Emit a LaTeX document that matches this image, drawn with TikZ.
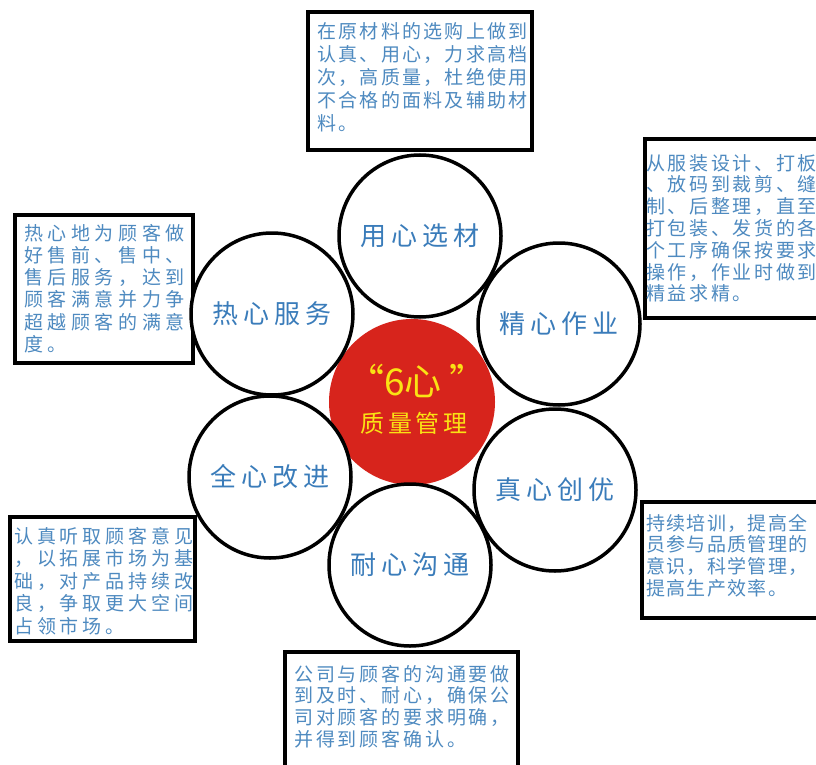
\documentclass[tikz,border=0pt]{standalone}
\usepackage{fontspec}
\setmainfont{Noto Sans CJK SC}
\newcommand\bfnt[1]{\fontsize{19}{19}\selectfont\addfontfeature{LetterSpace=#1}}
\definecolor{txtblue}{RGB}{78,138,192}
\definecolor{lblblue}{RGB}{58,124,186}
\definecolor{cred}{RGB}{215,36,28}
\definecolor{cyel}{RGB}{250,226,20}
\begin{document}
\begin{tikzpicture}[x=1pt,y=-1pt,
  boxnode/.style={draw=black, line width=4pt, fill=white, inner sep=0pt},
  circnode/.style={circle, draw=black, line width=3.5pt, fill=white, minimum size=162pt, inner sep=0pt, text=lblblue, font=\fontsize{26}{26}\selectfont\addfontfeature{LetterSpace=20}},
  btxt/.style={anchor=base west, inner sep=0pt, text=txtblue},
  ctxt/.style={anchor=base, inner sep=0pt, text=cyel}]
\clip (0,0) rectangle (816,765);
\fill[white] (0,0) rectangle (816,765);

% boxes
\node[boxnode, minimum width=224pt, minimum height=138pt] (btop) at (420,81) {};
\node[boxnode, minimum width=185pt, minimum height=179pt] (brt) at (737.5,228.5) {};
\node[boxnode, minimum width=178pt, minimum height=148pt] (blt) at (104,289) {};
\node[boxnode, minimum width=188pt, minimum height=116pt] (brb) at (736,560) {};
\node[boxnode, minimum width=185pt, minimum height=124pt] (blb) at (102.5,579) {};
\node[boxnode, minimum width=233pt, minimum height=128pt] (bbot) at (401.5,716) {};

% box texts
\foreach \t [count=\i] in {在原材料的选购上做到,认真、用心，力求高档,次，高质量，杜绝使用,不合格的面料及辅助材,料。}
  \node[btxt, font=\bfnt{12}] (ttop\i) at (317,{39+(\i-1)*23}) {\t};
\foreach \t [count=\i] in {从服装设计、打板,、放码到裁剪、缝,制、后整理，直至,打包装、发货的各,个工序确保按要求,操作，作业时做到,精益求精。}
  \node[btxt, font=\bfnt{14}] (trt\i) at (646,{170+(\i-1)*21.8}) {\t};
\foreach \t [count=\i] in {热心地为顾客做,好售前、售中、,售后服务，达到,顾客满意并力争,超越顾客的满意,度。}
  \node[btxt, font=\bfnt{24}] (tlt\i) at (24,{240+(\i-1)*22.3}) {\t};
\foreach \t [count=\i] in {持续培训，提高全,员参与品质管理的,意识，科学管理，,提高生产效率。}
  \node[btxt, font=\bfnt{7}] (trb\i) at (646,{530+(\i-1)*21.7}) {\t};
\foreach \t [count=\i] in {认真听取顾客意见,，以拓展市场为基,础，对产品持续改,良，争取更大空间,占领市场。}
  \node[btxt, font=\bfnt{20.5}] (tlb\i) at (14,{543+(\i-1)*22.5}) {\t};
\foreach \t [count=\i] in {公司与顾客的沟通要做,到及时、耐心，确保公,司对顾客的要求明确，,并得到顾客确认。}
  \node[btxt, font=\bfnt{15}] (tbot\i) at (294,{681+(\i-1)*21.7}) {\t};

% center
\node[circle, fill=cred, minimum size=166pt, inner sep=0pt] (core) at (412,402) {};

% outer circles
\node[circnode] (ctop) at (420,236) {用心选材};
\node[circnode] (cul) at (272,314) {热心服务};
\node[circnode] (cur) at (559,324) {精心作业};
\node[circnode] (cll) at (270,477) {全心改进};
\node[circnode] (clr) at (555,490) {真心创优};
\node[circnode] (cbot) at (410,565) {耐心沟通};

% center texts
\node[ctxt, font=\fontsize{37}{37}\selectfont] (ct1) at (417,395) {“6心 ”};
\node[ctxt, font=\fontsize{24}{24}\selectfont\addfontfeature{LetterSpace=16}] (ct2) at (414,432) {质量管理};
\end{tikzpicture}
\end{document}
